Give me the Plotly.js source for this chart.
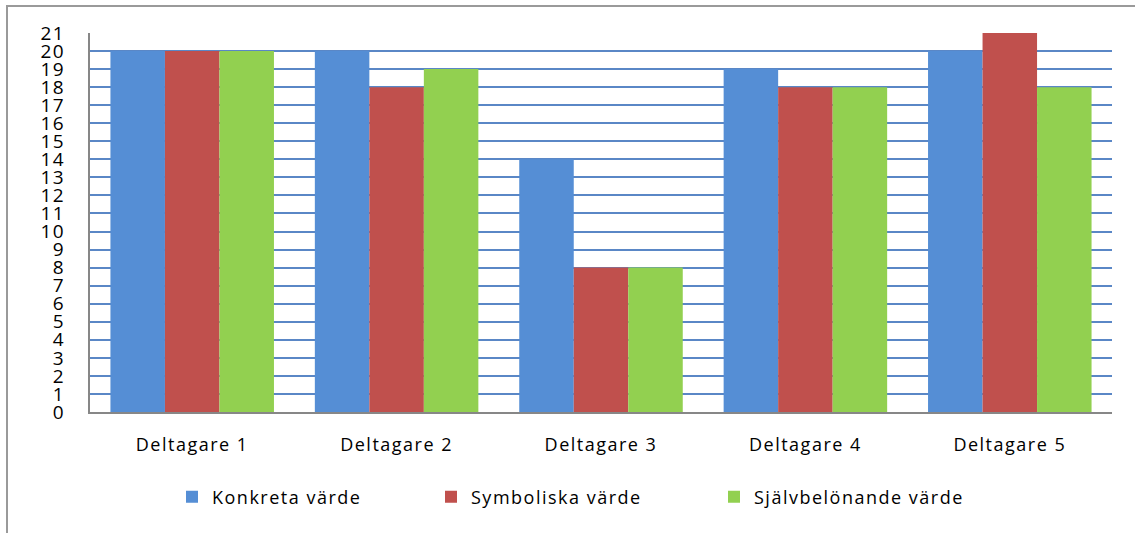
<!DOCTYPE html>
<html>
<head>
<meta charset="utf-8">
<script src="https://cdn.plot.ly/plotly-3.0.1.min.js"></script>
<style>
  html, body { margin: 0; padding: 0; background: #fff; }
  #wrap { position: relative; width: 1135px; height: 533px; overflow: hidden; }
  #chart { position: absolute; left: 0; top: 0; width: 1135px; height: 533px; }
  #frame { position: absolute; left: 6px; top: 5px; width: 1200px; height: 600px;
           border-top: 2px solid #9a9a9a; border-left: 2px solid #9a9a9a; pointer-events: none; }
  text { letter-spacing: 1.5px; }
</style>
</head>
<body>
<div id="wrap">
  <div id="chart"></div>
  <div id="frame"></div>
</div>
<script>
const categories = ["Deltagare 1", "Deltagare 2", "Deltagare 3", "Deltagare 4", "Deltagare 5"];
const seriesNames = ["Konkreta värde", "Symboliska värde", "Självbelönande värde"];
const konkreta = [20, 20, 14, 19, 20];
const symboliska = [20, 18, 8, 18, 21];
const sjalvbelonande = [20, 19, 8, 18, 18];
const yTicks = [0,1,2,3,4,5,6,7,8,9,10,11,12,13,14,15,16,17,18,19,20,21];

const colors = ["#558ED5", "#C0504D", "#92D050"];
const values = [konkreta, symboliska, sjalvbelonande];
const legendIds = ["legend", "legend2", "legend3"];

const traces = values.map((v, i) => ({
  type: "bar",
  x: categories,
  y: v,
  name: seriesNames[i],
  marker: { color: colors[i], line: { width: 0 } },
  legend: legendIds[i],
  hoverinfo: "x+y+name"
}));

const fam = "Open Sans, sans-serif";
function leg(xpx) {
  return {
    orientation: "h", x: (xpx - 90) / 1022, xanchor: "left",
    y: (412 - 497) / 379, yanchor: "middle",
    font: { family: fam, size: 18, color: "#000" },
    bgcolor: "rgba(0,0,0,0)", borderwidth: 0
  };
}

const layout = {
  width: 1135, height: 533,
  margin: { l: 90, r: 23, t: 33, b: 121, pad: 0 },
  paper_bgcolor: "#fff", plot_bgcolor: "#fff",
  barmode: "group", bargap: 0.2, bargroupgap: 0,
  font: { family: fam, size: 18, color: "#000" },
  showlegend: true,
  legend: leg(172),
  legend2: leg(431),
  legend3: leg(714),
  xaxis: {
    type: "category",
    showline: true, linecolor: "#878787", linewidth: 2,
    showgrid: false, zeroline: false, ticks: "",
    ticklabelstandoff: 15,
    tickfont: { family: fam, size: 18, color: "#000" }
  },
  yaxis: {
    range: [0, 21], tickmode: "array", tickvals: yTicks, ticktext: yTicks.map(String),
    showline: true, linecolor: "#878787", linewidth: 2,
    showgrid: true, gridcolor: "#5A87C6", gridwidth: 2,
    zeroline: false, ticks: "",
    ticklabelstandoff: 19,
    tickfont: { family: fam, size: 19, color: "#000" }
  }
};

Plotly.newPlot("chart", traces, layout, { displayModeBar: false, staticPlot: true });
</script>
</body>
</html>
